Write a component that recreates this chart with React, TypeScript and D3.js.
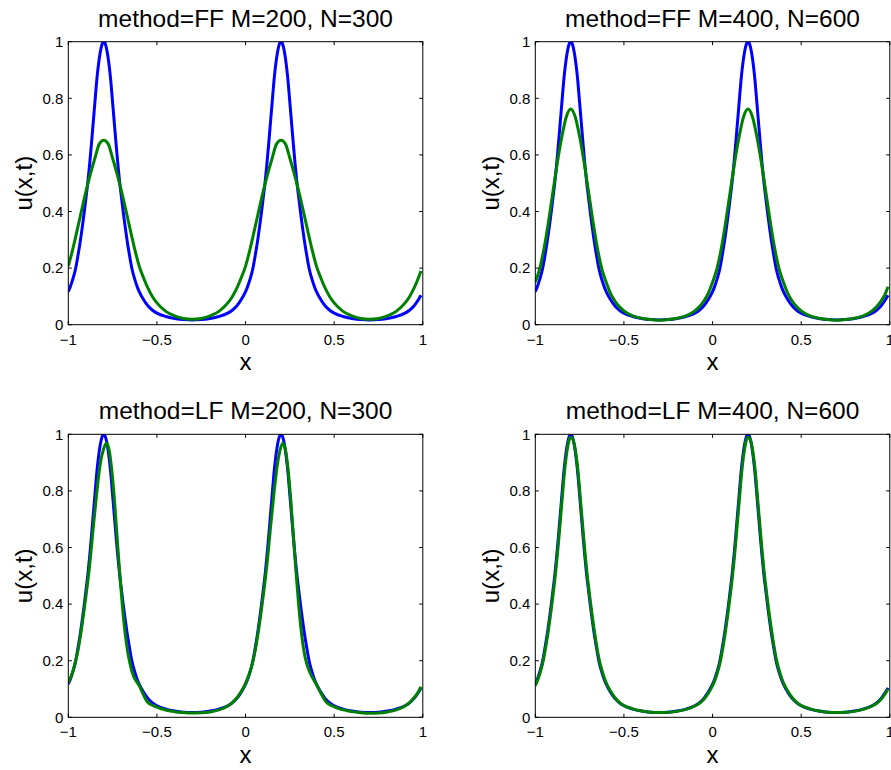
import React from "react";
import * as d3 from "d3";

type Pt = [number, number];

// exact solution (blue)
const exactCurve: Pt[] = [
  [-1, 0.117], [-0.99, 0.132], [-0.975, 0.16], [-0.96, 0.195], [-0.95, 0.228], [-0.94, 0.265], [-0.93, 0.305],
  [-0.92, 0.35], [-0.91, 0.398], [-0.9, 0.45], [-0.89, 0.502], [-0.88, 0.565], [-0.87, 0.635], [-0.86, 0.71],
  [-0.85, 0.785], [-0.84, 0.86], [-0.83, 0.918], [-0.82, 0.962], [-0.81, 0.99], [-0.8, 1.0], [-0.79, 0.99],
  [-0.78, 0.962], [-0.77, 0.918], [-0.76, 0.86], [-0.75, 0.785], [-0.74, 0.71], [-0.73, 0.635], [-0.72, 0.565],
  [-0.71, 0.502], [-0.7, 0.45], [-0.69, 0.398], [-0.68, 0.35], [-0.67, 0.305], [-0.66, 0.265], [-0.65, 0.228],
  [-0.64, 0.195], [-0.625, 0.16], [-0.61, 0.132], [-0.6, 0.117], [-0.575, 0.088], [-0.55, 0.066], [-0.525, 0.051],
  [-0.5, 0.041], [-0.45, 0.029], [-0.4, 0.022], [-0.35, 0.018], [-0.3, 0.017], [-0.25, 0.018], [-0.2, 0.022],
  [-0.15, 0.029], [-0.1, 0.041], [-0.075, 0.051], [-0.05, 0.066], [-0.025, 0.088], [0, 0.117], [0.01, 0.132],
  [0.025, 0.16], [0.04, 0.195], [0.05, 0.228], [0.06, 0.265], [0.07, 0.305], [0.08, 0.35], [0.09, 0.398],
  [0.1, 0.45], [0.11, 0.502], [0.12, 0.565], [0.13, 0.635], [0.14, 0.71], [0.15, 0.785], [0.16, 0.86],
  [0.17, 0.918], [0.18, 0.962], [0.19, 0.99], [0.2, 1.0], [0.21, 0.99], [0.22, 0.962], [0.23, 0.918],
  [0.24, 0.86], [0.25, 0.785], [0.26, 0.71], [0.27, 0.635], [0.28, 0.565], [0.29, 0.502], [0.3, 0.45],
  [0.31, 0.398], [0.32, 0.35], [0.33, 0.305], [0.34, 0.265], [0.35, 0.228], [0.36, 0.195], [0.375, 0.16],
  [0.39, 0.132], [0.4, 0.117], [0.425, 0.088], [0.45, 0.066], [0.475, 0.051], [0.5, 0.041], [0.55, 0.029],
  [0.6, 0.022], [0.65, 0.018], [0.7, 0.017], [0.75, 0.018], [0.8, 0.022], [0.85, 0.029], [0.9, 0.041],
  [0.925, 0.051], [0.95, 0.066], [0.975, 0.088], [0.99, 0.104],
];

// FF, M=200, N=300 (green)
const ff200Curve: Pt[] = [
  [-1, 0.207], [-0.975, 0.266], [-0.95, 0.334], [-0.925, 0.404], [-0.9, 0.472], [-0.875, 0.533], [-0.85, 0.588],
  [-0.825, 0.639], [-0.8, 0.652], [-0.775, 0.639], [-0.75, 0.588], [-0.725, 0.533], [-0.7, 0.472], [-0.675, 0.404],
  [-0.65, 0.334], [-0.625, 0.266], [-0.6, 0.207], [-0.575, 0.165], [-0.55, 0.128], [-0.525, 0.099], [-0.5, 0.077],
  [-0.45, 0.047], [-0.4, 0.031], [-0.35, 0.022], [-0.3, 0.019], [-0.25, 0.022], [-0.2, 0.031], [-0.15, 0.047],
  [-0.1, 0.077], [-0.075, 0.099], [-0.05, 0.128], [-0.025, 0.165], [0, 0.207], [0.025, 0.266], [0.05, 0.334],
  [0.075, 0.404], [0.1, 0.472], [0.125, 0.533], [0.15, 0.588], [0.175, 0.639], [0.2, 0.652], [0.225, 0.639],
  [0.25, 0.588], [0.275, 0.533], [0.3, 0.472], [0.325, 0.404], [0.35, 0.334], [0.375, 0.266], [0.4, 0.207],
  [0.425, 0.165], [0.45, 0.128], [0.475, 0.099], [0.5, 0.077], [0.55, 0.047], [0.6, 0.031], [0.65, 0.022],
  [0.7, 0.019], [0.75, 0.022], [0.8, 0.031], [0.85, 0.047], [0.9, 0.077], [0.925, 0.099], [0.95, 0.128],
  [0.975, 0.165], [0.99, 0.19],
];

// FF, M=400, N=600 (green)
const ff400Curve: Pt[] = [
  [-1, 0.15], [-0.975, 0.198], [-0.95, 0.272], [-0.925, 0.366], [-0.9, 0.472], [-0.875, 0.575], [-0.85, 0.665],
  [-0.825, 0.735], [-0.8, 0.762], [-0.775, 0.735], [-0.75, 0.665], [-0.725, 0.575], [-0.7, 0.472], [-0.675, 0.366],
  [-0.65, 0.272], [-0.625, 0.198], [-0.6, 0.15], [-0.575, 0.11], [-0.55, 0.083], [-0.525, 0.063], [-0.5, 0.049],
  [-0.45, 0.031], [-0.4, 0.023], [-0.35, 0.018], [-0.3, 0.016], [-0.25, 0.018], [-0.2, 0.023], [-0.15, 0.031],
  [-0.1, 0.049], [-0.075, 0.063], [-0.05, 0.083], [-0.025, 0.11], [0, 0.15], [0.025, 0.198], [0.05, 0.272],
  [0.075, 0.366], [0.1, 0.472], [0.125, 0.575], [0.15, 0.665], [0.175, 0.735], [0.2, 0.762], [0.225, 0.735],
  [0.25, 0.665], [0.275, 0.575], [0.3, 0.472], [0.325, 0.366], [0.35, 0.272], [0.375, 0.198], [0.4, 0.15],
  [0.425, 0.11], [0.45, 0.083], [0.475, 0.063], [0.5, 0.049], [0.55, 0.031], [0.6, 0.023], [0.65, 0.018],
  [0.7, 0.016], [0.75, 0.018], [0.8, 0.023], [0.85, 0.031], [0.9, 0.049], [0.925, 0.063], [0.95, 0.083],
  [0.975, 0.11], [0.99, 0.134],
];

// LF, M=200, N=300 (green)
const lf200Curve: Pt[] = [
  [-1, 0.122], [-0.975, 0.16], [-0.95, 0.222], [-0.925, 0.315], [-0.9, 0.43], [-0.88, 0.535], [-0.86, 0.665],
  [-0.84, 0.79], [-0.82, 0.895], [-0.8, 0.95], [-0.785, 0.968], [-0.77, 0.945], [-0.755, 0.875], [-0.74, 0.77],
  [-0.725, 0.64], [-0.71, 0.51], [-0.695, 0.395], [-0.68, 0.3], [-0.665, 0.232], [-0.652, 0.19], [-0.642, 0.163],
  [-0.6, 0.112], [-0.555, 0.055], [-0.52, 0.041], [-0.48, 0.031], [-0.44, 0.024], [-0.4, 0.02], [-0.35, 0.017],
  [-0.3, 0.015], [-0.25, 0.016], [-0.2, 0.019], [-0.15, 0.026], [-0.1, 0.04], [-0.075, 0.052], [-0.05, 0.068],
  [-0.025, 0.09], [0, 0.12], [0.025, 0.16], [0.05, 0.222], [0.075, 0.315], [0.1, 0.43], [0.12, 0.535],
  [0.14, 0.665], [0.16, 0.79], [0.18, 0.895], [0.195, 0.945], [0.21, 0.968], [0.225, 0.945], [0.24, 0.875],
  [0.255, 0.77], [0.27, 0.64], [0.285, 0.51], [0.3, 0.395], [0.315, 0.3], [0.33, 0.232], [0.345, 0.19],
  [0.362, 0.16], [0.405, 0.11], [0.455, 0.054], [0.49, 0.04], [0.53, 0.03], [0.57, 0.024], [0.6, 0.02],
  [0.65, 0.016], [0.7, 0.014], [0.75, 0.015], [0.8, 0.019], [0.85, 0.026], [0.9, 0.04], [0.925, 0.052],
  [0.95, 0.068], [0.975, 0.09], [0.99, 0.108],
];

// LF, M=400, N=600 (green)
const lf400Curve: Pt[] = [
  [-1, 0.112], [-0.99, 0.126], [-0.975, 0.153], [-0.96, 0.187], [-0.95, 0.217], [-0.94, 0.253], [-0.93, 0.292],
  [-0.92, 0.335], [-0.91, 0.382], [-0.9, 0.433], [-0.89, 0.485], [-0.88, 0.545], [-0.87, 0.612], [-0.86, 0.685],
  [-0.85, 0.76], [-0.84, 0.835], [-0.83, 0.898], [-0.82, 0.945], [-0.81, 0.978], [-0.8, 0.99], [-0.79, 0.985],
  [-0.78, 0.965], [-0.77, 0.928], [-0.76, 0.875], [-0.75, 0.805], [-0.74, 0.73], [-0.73, 0.657], [-0.72, 0.585],
  [-0.71, 0.52], [-0.7, 0.465], [-0.69, 0.413], [-0.68, 0.364], [-0.67, 0.318], [-0.66, 0.277], [-0.65, 0.239],
  [-0.64, 0.205], [-0.625, 0.168], [-0.61, 0.138], [-0.6, 0.122], [-0.575, 0.092], [-0.55, 0.069], [-0.525, 0.053],
  [-0.5, 0.042], [-0.45, 0.03], [-0.4, 0.022], [-0.35, 0.018], [-0.3, 0.017], [-0.25, 0.018], [-0.2, 0.021],
  [-0.15, 0.028], [-0.1, 0.04], [-0.075, 0.049], [-0.05, 0.063], [-0.025, 0.084], [0, 0.112], [0.01, 0.126],
  [0.025, 0.153], [0.04, 0.187], [0.05, 0.217], [0.06, 0.253], [0.07, 0.292], [0.08, 0.335], [0.09, 0.382],
  [0.1, 0.433], [0.11, 0.485], [0.12, 0.545], [0.13, 0.612], [0.14, 0.685], [0.15, 0.76], [0.16, 0.835],
  [0.17, 0.898], [0.18, 0.945], [0.19, 0.978], [0.2, 0.99], [0.21, 0.985], [0.22, 0.965], [0.23, 0.928],
  [0.24, 0.875], [0.25, 0.805], [0.26, 0.73], [0.27, 0.657], [0.28, 0.585], [0.29, 0.52], [0.3, 0.465],
  [0.31, 0.413], [0.32, 0.364], [0.33, 0.318], [0.34, 0.277], [0.35, 0.239], [0.36, 0.205], [0.375, 0.168],
  [0.39, 0.138], [0.4, 0.122], [0.425, 0.092], [0.45, 0.069], [0.475, 0.053], [0.5, 0.042], [0.55, 0.03],
  [0.6, 0.022], [0.65, 0.018], [0.7, 0.017], [0.75, 0.018], [0.8, 0.021], [0.85, 0.028], [0.9, 0.04],
  [0.925, 0.049], [0.95, 0.063], [0.975, 0.084], [0.99, 0.1],
];

const xTicks = [-1, -0.5, 0, 0.5, 1];
const yTicks = [0, 0.2, 0.4, 0.6, 0.8, 1];
const titles = [
  "method=FF M=200, N=300",
  "method=FF M=400, N=600",
  "method=LF M=200, N=300",
  "method=LF M=400, N=600",
];
const numericCurves = [ff200Curve, ff400Curve, lf200Curve, lf400Curve];

const FONT = "'Liberation Sans', Arial, Helvetica, sans-serif";
const colLefts = [68.3, 535.3];
const rowTops = [41.7, 434.3];
const AX_W = 354.5;
const AX_H = 283;
const TICK = 3.5;

const fmt = (v: number) => (v < 0 ? "\u2212" + String(Math.abs(v)) : String(v));

function Panel({ idx }: { idx: number }) {
  const left = colLefts[idx % 2];
  const top = rowTops[Math.floor(idx / 2)];
  const right = left + AX_W;
  const bottom = top + AX_H;
  const xs = d3.scaleLinear().domain([-1, 1]).range([left, right]);
  const ys = d3.scaleLinear().domain([0, 1]).range([bottom, top]);
  const line = d3
    .line<Pt>()
    .x((d) => xs(d[0]))
    .y((d) => ys(d[1]))
    .curve(d3.curveMonotoneX);
  const clipId = `clip${idx}`;
  const cx = (left + right) / 2;
  const cy = (top + bottom) / 2;
  return (
    <g>
      <defs>
        <clipPath id={clipId}>
          <rect x={left} y={top} width={right - left} height={bottom - top} />
        </clipPath>
      </defs>
      <rect x={left} y={top} width={right - left} height={bottom - top} fill="#fff" />
      <g clipPath={`url(#${clipId})`}>
        <path d={line(exactCurve) || ""} fill="none" stroke="#0000ff" strokeWidth={3} strokeLinejoin="round" />
        <path d={line(numericCurves[idx]) || ""} fill="none" stroke="#008000" strokeWidth={3} strokeLinejoin="round" />
      </g>
      {xTicks.map((t) => (
        <g key={"xt" + t}>
          <line x1={xs(t)} x2={xs(t)} y1={bottom} y2={bottom - TICK} stroke="#000" strokeWidth={1} />
          <line x1={xs(t)} x2={xs(t)} y1={top} y2={top + TICK} stroke="#000" strokeWidth={1} />
          <text x={xs(t)} y={bottom + 20} fontSize={15} fontFamily={FONT} textAnchor="middle" fill="#000">
            {fmt(t)}
          </text>
        </g>
      ))}
      {yTicks.map((t) => (
        <g key={"yt" + t}>
          <line x1={left} x2={left + TICK} y1={ys(t)} y2={ys(t)} stroke="#000" strokeWidth={1} />
          <line x1={right} x2={right - TICK} y1={ys(t)} y2={ys(t)} stroke="#000" strokeWidth={1} />
          <text x={left - 5} y={ys(t) + 5.3} fontSize={15} fontFamily={FONT} textAnchor="end" fill="#000">
            {fmt(t)}
          </text>
        </g>
      ))}
      <rect x={left} y={top} width={right - left} height={bottom - top} fill="none" stroke="#000" strokeWidth={1} />
      <text x={cx} y={top - 15} fontSize={24.5} fontFamily={FONT} textAnchor="middle" fill="#000">
        {titles[idx]}
      </text>
      <text x={cx} y={bottom + 45.7} fontSize={24} fontFamily={FONT} textAnchor="middle" fill="#000">
        x
      </text>
      <text
        transform={`translate(${left - 36.3},${cy}) rotate(-90)`}
        fontSize={24}
        fontFamily={FONT}
        textAnchor="middle"
        fill="#000"
      >
        u(x,t)
      </text>
    </g>
  );
}

export default function App() {
  return (
    <svg
      width={891}
      height={770}
      viewBox="0 0 891 770"
      style={{ position: "absolute", left: 0, top: 0, background: "#fff" }}
    >
      <rect x={0} y={0} width={891} height={770} fill="#fff" />
      {[0, 1, 2, 3].map((i) => (
        <Panel key={i} idx={i} />
      ))}
    </svg>
  );
}
